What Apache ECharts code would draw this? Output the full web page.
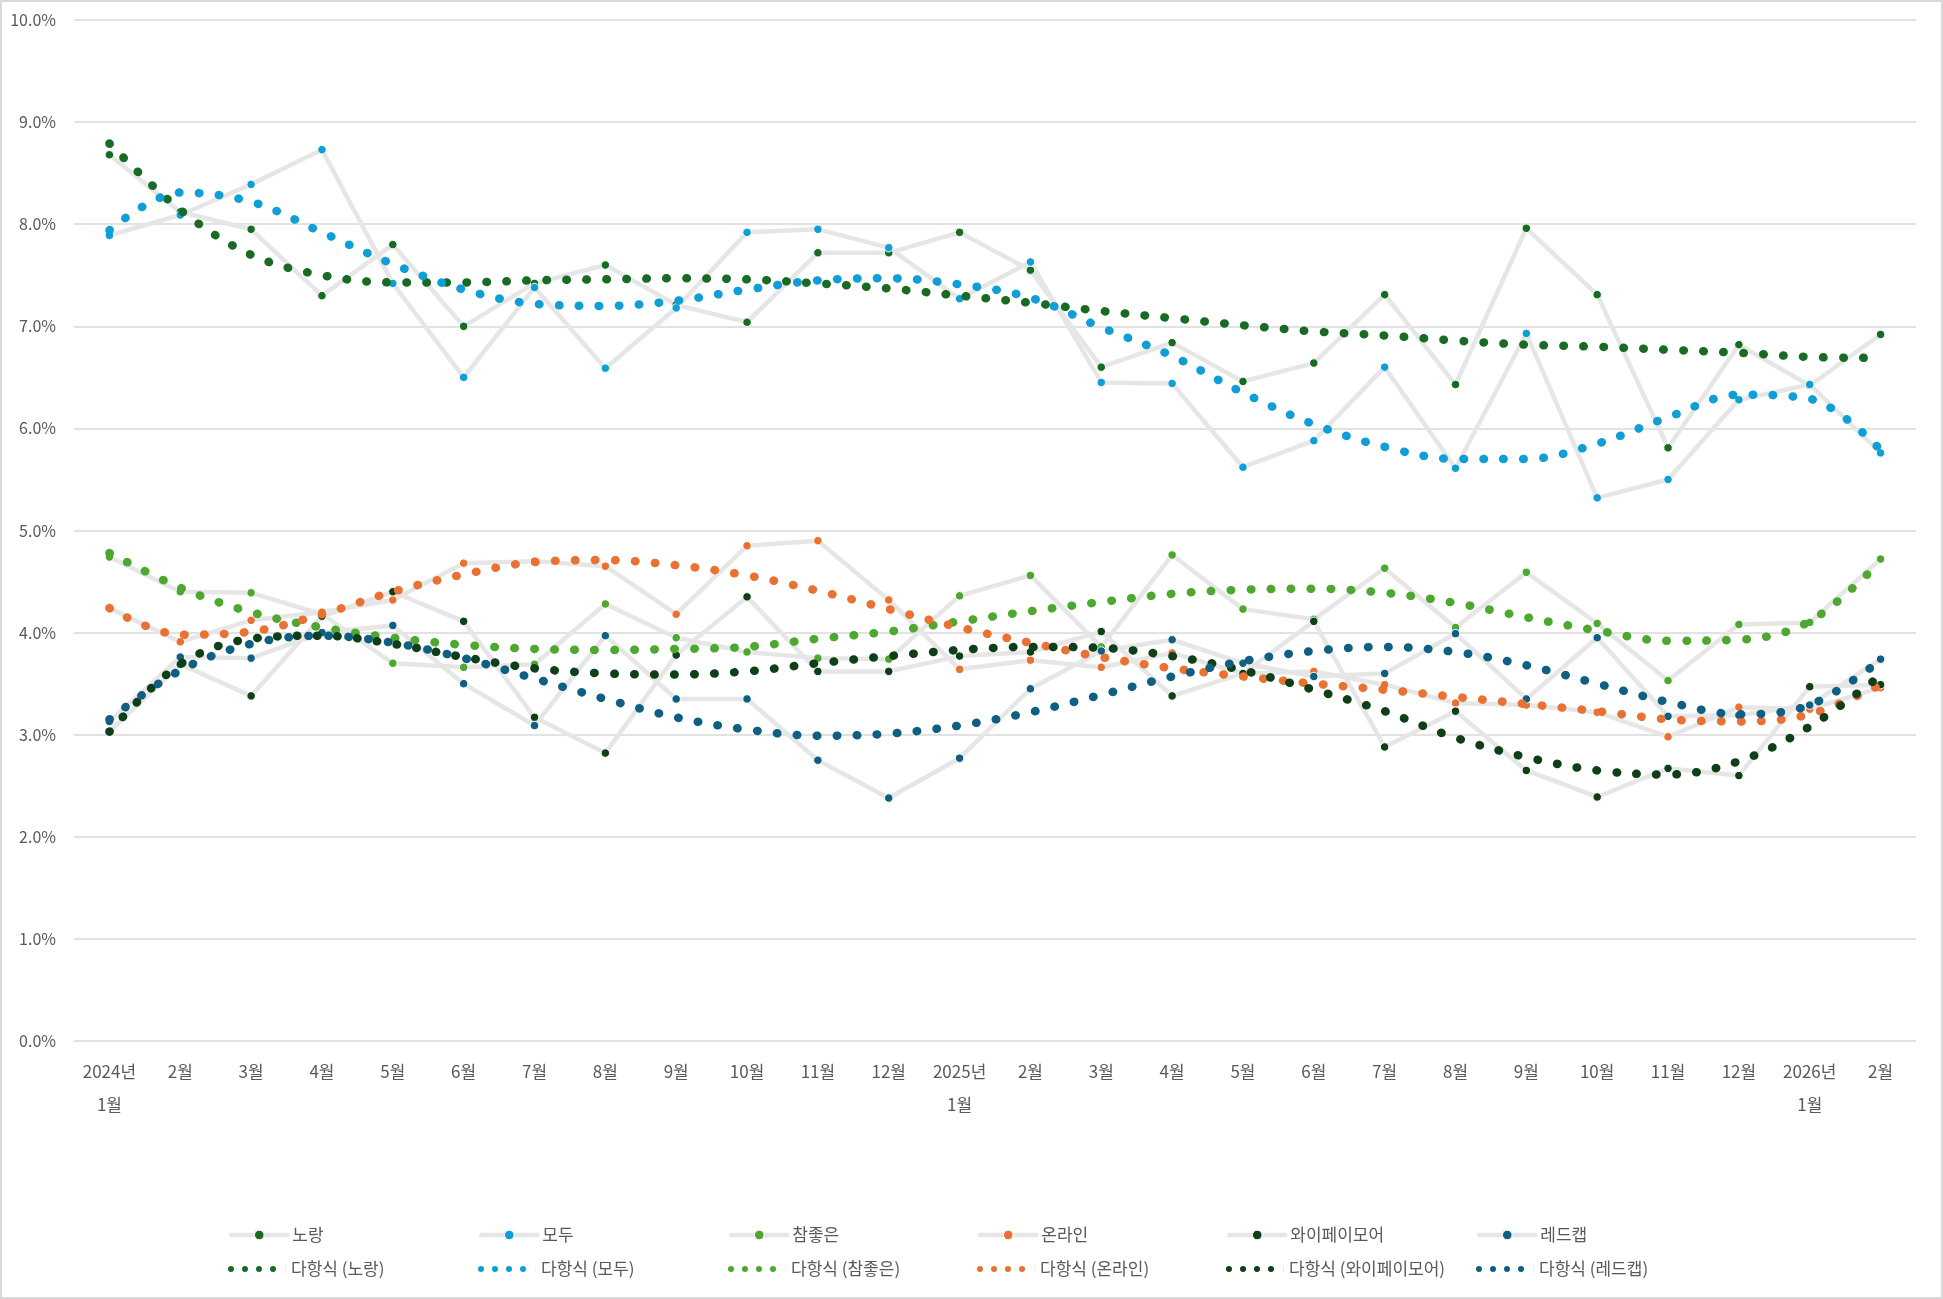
<!DOCTYPE html>
<html>
<head>
<meta charset="utf-8">
<script src="https://cdn.jsdelivr.net/npm/echarts@6/dist/echarts.min.js"></script>
<style>
html,body{margin:0;padding:0;background:#fff;}
#wrap{position:relative;width:1943px;height:1299px;}
#chart{position:absolute;left:0;top:0;width:1943px;height:1299px;}
#frame{position:absolute;left:0;top:0;width:1939px;height:1295px;border:2px solid #d9d9d9;pointer-events:none;}
</style>
</head>
<body>
<div id="wrap"><div id="chart"></div><div id="frame"></div></div>
<script>
// ---- data (percent) ----
const categories = ['2024년\n1월','2월','3월','4월','5월','6월','7월','8월','9월','10월','11월','12월',
  '2025년\n1월','2월','3월','4월','5월','6월','7월','8월','9월','10월','11월','12월','2026년\n1월','2월'];

const seriesNames = ['노랑','모두','참좋은','온라인','와이페이모어','레드캡'];
const trendNames = ['다항식 (노랑)','다항식 (모두)','다항식 (참좋은)','다항식 (온라인)','다항식 (와이페이모어)','다항식 (레드캡)'];

const noRang = [8.68, 8.12, 7.95, 7.30, 7.80, 7.00, 7.42, 7.60, 7.21, 7.04, 7.72, 7.72, 7.92, 7.55, 6.60, 6.84, 6.46, 6.64, 7.31, 6.43, 7.96, 7.31, 5.81, 6.82, 6.42, 6.92];
const moDu = [7.89, 8.09, 8.39, 8.73, 7.42, 6.50, 7.38, 6.59, 7.18, 7.92, 7.95, 7.77, 7.27, 7.63, 6.45, 6.44, 5.62, 5.88, 6.60, 5.61, 6.93, 5.32, 5.50, 6.28, 6.43, 5.76];
const chamJoeun = [4.74, 4.40, 4.39, 4.18, 3.70, 3.66, 3.69, 4.28, 3.95, 3.81, 3.75, 3.74, 4.36, 4.56, 3.86, 4.76, 4.23, 4.13, 4.63, 4.05, 4.59, 4.09, 3.53, 4.08, 4.10, 4.72];
const onLine = [4.24, 3.91, 4.12, 4.20, 4.32, 4.68, 4.70, 4.65, 4.18, 4.85, 4.90, 4.32, 3.64, 3.73, 3.66, 3.80, 3.60, 3.62, 3.49, 3.31, 3.29, 3.22, 2.98, 3.27, 3.25, 3.46];
const yPayMore = [3.03, 3.69, 3.38, 4.16, 4.40, 4.11, 3.17, 2.82, 3.78, 4.35, 3.62, 3.62, 3.77, 3.81, 4.01, 3.38, 3.60, 4.11, 2.88, 3.23, 2.65, 2.39, 2.67, 2.60, 3.47, 3.49];
const redCap = [3.13, 3.76, 3.75, 4.00, 4.07, 3.50, 3.09, 3.97, 3.35, 3.35, 2.75, 2.38, 2.77, 3.45, 3.82, 3.93, 3.70, 3.57, 3.60, 3.99, 3.35, 3.95, 3.18, 3.19, 3.29, 3.74];

// trendlines
const noRangTrend = [8.79, 8.14, 7.70, 7.50, 7.43, 7.43, 7.45, 7.46, 7.47, 7.46, 7.42, 7.37, 7.30, 7.23, 7.15, 7.08, 7.01, 6.95, 6.91, 6.86, 6.82, 6.80, 6.77, 6.74, 6.70, 6.69];
const moDuTrend = [7.94, 8.31, 8.22, 7.92, 7.61, 7.36, 7.22, 7.20, 7.25, 7.36, 7.45, 7.47, 7.41, 7.28, 6.99, 6.71, 6.35, 6.04, 5.82, 5.70, 5.70, 5.85, 6.11, 6.33, 6.29, 5.79];
const chamJoeunTrend = [4.78, 4.44, 4.20, 4.05, 3.95, 3.88, 3.84, 3.83, 3.84, 3.86, 3.94, 4.01, 4.11, 4.21, 4.30, 4.38, 4.42, 4.43, 4.39, 4.29, 4.15, 4.02, 3.92, 3.93, 4.11, 4.70];
const onLineTrend = [4.24, 3.98, 4.01, 4.18, 4.40, 4.57, 4.69, 4.71, 4.66, 4.56, 4.41, 4.23, 4.05, 3.90, 3.76, 3.65, 3.57, 3.50, 3.44, 3.37, 3.30, 3.23, 3.15, 3.13, 3.20, 3.49];
const yPayMoreTrend = [3.03, 3.69, 3.94, 3.97, 3.89, 3.76, 3.65, 3.60, 3.59, 3.62, 3.70, 3.77, 3.83, 3.86, 3.85, 3.77, 3.63, 3.44, 3.23, 2.97, 2.78, 2.65, 2.61, 2.74, 3.08, 3.58];
const redCapTrend = [3.15, 3.63, 3.89, 3.97, 3.90, 3.75, 3.55, 3.35, 3.17, 3.05, 2.99, 3.01, 3.09, 3.22, 3.39, 3.57, 3.72, 3.82, 3.86, 3.81, 3.68, 3.50, 3.32, 3.20, 3.29, 3.73];

const yTicks = {min: 0, max: 10, interval: 1};

// ---- styling ----
const colors = ['#196b24', '#0f9ed5', '#4ea72e', '#e97132', '#0e3f18', '#0f5f82'];
const FONT = "'Noto Sans CJK KR', 'Noto Sans', sans-serif";
const TXT = '#595959';

const values = [noRang, moDu, chamJoeun, onLine, yPayMore, redCap];
const trends = [noRangTrend, moDuTrend, chamJoeunTrend, onLineTrend, yPayMoreTrend, redCapTrend];

const series = [];
values.forEach((v, k) => {
  series.push({
    name: seriesNames[k], type: 'line', data: v,
    symbol: 'circle', symbolSize: 8.5, showAllSymbol: true,
    lineStyle: {color: '#e6e6e6', width: 4.5, cap: 'round', join: 'round'},
    itemStyle: {color: colors[k], borderColor: '#ffffff', borderWidth: 1},
    z: 2
  });
});
trends.forEach((v, k) => {
  series.push({
    name: trendNames[k], type: 'line', data: v, smooth: 0.35,
    symbol: 'none', showSymbol: false,
    lineStyle: {color: colors[k], width: 8.5, type: [0.5, 19.5], cap: 'round'},
    itemStyle: {color: colors[k]},
    z: 3
  });
});

// legend icon for dotted trendlines: four dots (plus a thin speck to set the icon width)
const dotIcon = 'path://M0,3a3,3 0 1,0 6,0a3,3 0 1,0 -6,0z' +
  'M14,3a3,3 0 1,0 6,0a3,3 0 1,0 -6,0z' +
  'M28,3a3,3 0 1,0 6,0a3,3 0 1,0 -6,0z' +
  'M42,3a3,3 0 1,0 6,0a3,3 0 1,0 -6,0z' +
  'M57.9,0L58,0L58,6L57.9,6z';

const legendLeft = [229, 479, 729, 978, 1227, 1477];
const legends = [];
seriesNames.forEach((n, k) => {
  legends.push({
    data: [{name: n}], left: legendLeft[k], top: 1225, padding: 0,
    itemWidth: 56, itemHeight: 12, selectedMode: false,
    lineStyle: {color: '#e6e6e6', width: 4.5},
    itemStyle: {borderColor: '#ffffff', borderWidth: 1},
    textStyle: {color: TXT, fontSize: 17, fontFamily: FONT, lineHeight: 20}
  });
});
trendNames.forEach((n, k) => {
  legends.push({
    data: [{name: n, icon: dotIcon, itemStyle: {color: colors[k], borderWidth: 0}}],
    left: legendLeft[k] - 1, top: 1259, padding: 0,
    itemWidth: 58, itemHeight: 6, selectedMode: false,
    textStyle: {color: TXT, fontSize: 17, fontFamily: FONT, lineHeight: 20}
  });
});

const chart = echarts.init(document.getElementById('chart'), null, {renderer: 'canvas'});
chart.setOption({
  animation: false,
  backgroundColor: '#ffffff',
  textStyle: {fontFamily: FONT},
  grid: {left: 74, right: 27, top: 20, bottom: 258, containLabel: false},
  legend: legends,
  xAxis: {
    type: 'category', data: categories, boundaryGap: true,
    axisLine: {show: false}, axisTick: {show: false},
    axisLabel: {interval: 0, color: TXT, fontSize: 17, fontFamily: FONT, lineHeight: 33, margin: 14}
  },
  yAxis: {
    type: 'value', min: yTicks.min, max: yTicks.max, interval: yTicks.interval,
    axisLine: {show: false}, axisTick: {show: false},
    splitLine: {lineStyle: {color: '#d9d9d9', width: 1.5}},
    axisLabel: {color: TXT, fontSize: 16, fontFamily: FONT, margin: 18,
      formatter: v => v.toFixed(1) + '%'}
  },
  series: series
});
</script>
</body>
</html>
